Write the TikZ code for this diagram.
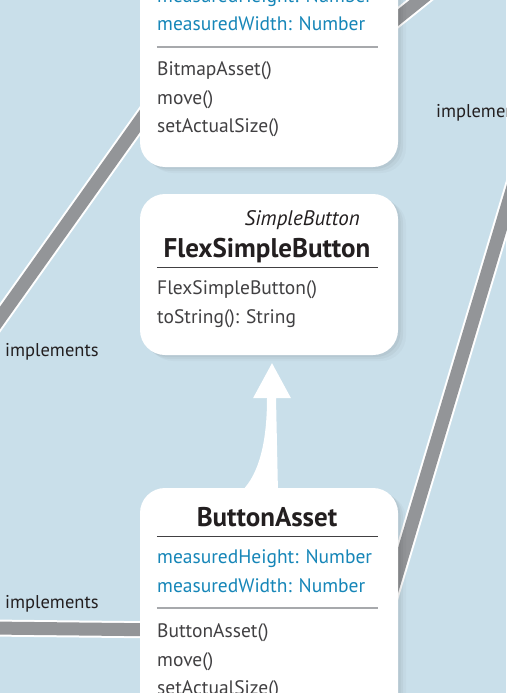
\documentclass[tikz,border=0pt]{standalone}
\usepackage{fontspec}
\setmainfont{PT Sans}
\usetikzlibrary{positioning,calc,shadows}
\definecolor{sky}{RGB}{201,223,234}
\definecolor{bandgray}{RGB}{147,149,152}
\definecolor{attrblue}{RGB}{22,134,184}
\definecolor{ink}{RGB}{65,64,66}
\definecolor{headink}{RGB}{35,31,32}
\definecolor{rulegray}{RGB}{167,169,172}
\pgfdeclarelayer{back}
\pgfdeclarelayer{links}
\pgfsetlayers{back,links,main}

\begin{document}
\begin{tikzpicture}[x=1pt, y=-1pt]
        \tikzstyle{cls}=[rectangle, rounded corners=25pt, fill=white, minimum width=258pt, inner sep=0pt,
            drop shadow={shadow xshift=8pt, shadow yshift=-6pt, fill=black, opacity=.025},
            drop shadow={shadow xshift=5pt, shadow yshift=-4pt, fill=black, opacity=.035},
            drop shadow={shadow xshift=2.5pt, shadow yshift=-2pt, fill=black, opacity=.04}];
        \tikzstyle{band}=[-, draw=white, line width=2pt, double=bandgray, double distance=13pt];
        \tikzstyle{txt}=[anchor=base west, inner sep=0pt, text=ink, font=\fontsize{19.5}{19.5}\selectfont];
        \tikzstyle{attr}=[txt, text=attrblue];
        \tikzstyle{head}=[anchor=base, inner sep=0pt, text=headink, font=\fontsize{27}{27}\selectfont\bfseries];
        \tikzstyle{lbl}=[anchor=base west, inner sep=0pt, text=headink, font=\fontsize{18.5}{18.5}\selectfont];
        \tikzstyle{sep}=[draw=rulegray, line width=1.2pt];
        \tikzstyle{hsep}=[draw=ink, line width=1pt];

        \useasboundingbox (0, 0) rectangle (506, 693);
        \clip (0, 0) rectangle (506, 693);
        \begin{pgfonlayer}{back}
            \fill[sky] (0, 0) rectangle (506, 693);
        \end{pgfonlayer}

        \node[cls, minimum height=237pt] (bitmap) at (269, 48.5) {};
        \node[cls, minimum height=161pt] (flexbtn) at (269, 274.5) {};
        \node[cls, minimum height=237pt] (btnasset) at (269, 606.5) {};

        \node[attr] (bmH) at (157, 3) {measuredHeight: Number};
        \node[attr] (bmW) at (157, 31) {measuredWidth: Number};
        \draw[sep] ($(bitmap.west)+(17, -1.5)$) -- ++(221, 0);
        \node[txt] (bmNew) at (157, 75) {BitmapAsset()};
        \node[txt] (bmMove) at (157, 104) {move()};
        \node[txt] (bmSize) at (157, 132) {setActualSize()};

        \node[anchor=base east, inner sep=0pt, text=headink, font=\fontsize{21}{21}\selectfont\itshape] (fsSuper) at (360, 225) {SimpleButton};
        \node[head] (fsName) at (267, 257) {FlexSimpleButton};
        \draw[hsep] ($(flexbtn.west)+(17, -7.5)$) -- ++(221, 0);
        \node[txt] (fsNew) at (157, 294) {FlexSimpleButton()};
        \node[txt] (fsStr) at (157, 323) {toString(): String};

        \node[head] (baName) at (267, 526) {ButtonAsset};
        \draw[hsep] ($(btnasset.west)+(17, -70.5)$) -- ++(221, 0);
        \node[attr] (baH) at (157, 563) {measuredHeight: Number};
        \node[attr] (baW) at (157, 592) {measuredWidth: Number};
        \draw[sep] ($(btnasset.west)+(17, 1.5)$) -- ++(221, 0);
        \node[txt] (baNew) at (157, 637) {ButtonAsset()};
        \node[txt] (baMove) at (157, 666) {move()};
        \node[txt] (baSize) at (157, 694) {setActualSize()};

        \node[lbl] (implL) at (5, 356) {implements};
        \node[lbl] (implB) at (5, 608) {implements};
        \node[lbl] (implR) at (436, 117) {implements};

        \coordinate (tlEnd) at (-10, 332);
        \coordinate (trEnd) at (450, -24);
        \coordinate (rEnd) at (524, 150);
        \coordinate (blEnd) at (-10, 628);

        \begin{pgfonlayer}{links}
            \draw ($(bitmap.west)+(10, 58.5)$) edge[band] (tlEnd);
            \draw ($(bitmap.east)+(-28, -8.5)$) edge[band] (trEnd);
            \draw ($(btnasset.east)+(-21, 33.5)$) edge[band] (rEnd);
            \draw ($(btnasset.west)+(30, 23.5)$) edge[band] (blEnd);
        \end{pgfonlayer}

        \coordinate (tip) at ($(flexbtn.south)+(3, 8)$);
        \fill[white] (tip) -- ++(19, 35) -- ++(-15, 0) -- ($(btnasset.north)+(9, 5)$) -- ($(btnasset.north)+(-29, 5)$) .. controls +(22, -20) and +(0, 35) .. ($(tip)+(-5, 35)$) -- ++(-14, 0) -- cycle;
    \end{tikzpicture}
\end{document}
